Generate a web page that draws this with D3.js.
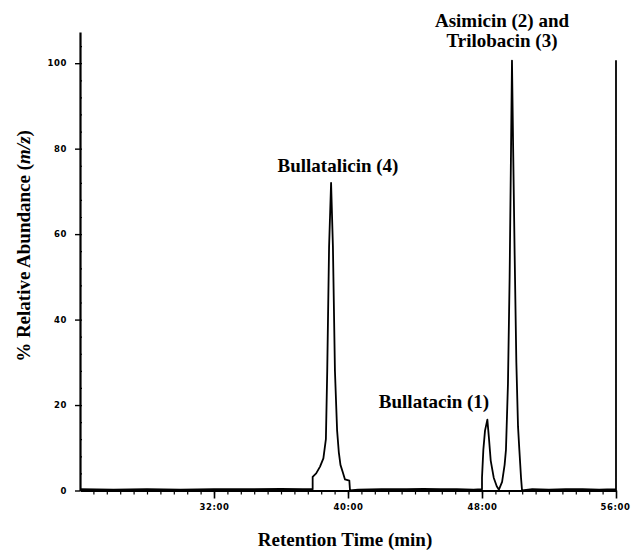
<!DOCTYPE html>
<html>
<head>
<meta charset="utf-8">
<script src="https://cdn.jsdelivr.net/npm/d3@7"></script>
<style>
  body { margin: 0; background: #fff; }
  .tick text { font-family: "DejaVu Sans", sans-serif; font-weight: bold; font-size: 8.5px; letter-spacing: 0.6px; }
  .lbl { font-family: "Liberation Serif", "Times New Roman", serif; font-weight: bold; font-size: 19px; }
</style>
</head>
<body>
<script>
// Retention time (min) and % relative abundance of the trace
const times = [24.0, 26.0, 28.0, 30.0, 32.0, 34.0, 36.0, 37.3, 37.89, 37.89, 38.1, 38.33, 38.53, 38.68, 38.76, 38.87, 38.99,
  39.1, 39.22, 39.35, 39.45, 39.55, 39.68, 39.82, 40.08, 40.12, 40.6, 42.0, 43.5, 44.5, 45.5, 46.5, 47.5,
  48.0, 48.0, 48.08, 48.18, 48.32, 48.42, 48.52, 48.7, 48.88, 49.01, 49.2, 49.35, 49.43, 49.55, 49.65, 49.72,
  49.79, 49.86, 49.95, 50.05, 50.15, 50.23, 50.33, 50.39, 51.0, 52.0, 53.0, 54.0, 55.0, 55.95, 56.0, 56.0];
const abundance = [0.3, 0.2, 0.3, 0.2, 0.3, 0.3, 0.4, 0.3, 0.3, 3.2, 4.0, 5.6, 7.5, 12, 28, 57, 72,
  57, 28, 14, 9, 6, 4.4, 2.6, 2.3, 0, 0.2, 0.3, 0.3, 0.4, 0.3, 0.3, 0.2,
  0.3, 3, 9.5, 14, 16.6, 12, 7, 3, 1, 0.2, 2, 6, 9.5, 25, 50, 75,
  100.6, 80, 55, 30, 15, 9.5, 3, 0, 0.3, 0.2, 0.3, 0.3, 0.2, 0.3, 0, 100.7];

const xMajor = [32, 40, 48, 56];
const yMajor = [0, 20, 40, 60, 80, 100];

const peakLabels = [
  { text: ["Bullatalicin (4)"], x: 338, y: 172 },
  { text: ["Bullatacin (1)"], x: 434, y: 408 },
  { text: ["Asimicin (2) and", "Trilobacin (3)"], x: 502, y: 27 }
];

const W = 631, H = 550;
const svg = d3.select("body").append("svg")
    .attr("width", W)
    .attr("height", H);

const x = d3.scaleLinear().domain([24, 56]).range([80, 616]);
const y = d3.scaleLinear().domain([0, 107.3]).range([490.5, 32]);

// X axis: major ticks with labels, minor ticks every 0.8 min
const xMinor = d3.range(24.8, 56, 0.8);
svg.append("g")
    .attr("transform", `translate(0,${y(0)})`)
    .call(d3.axisBottom(x).tickValues(xMinor).tickSize(4).tickFormat(""))
    .call(g => g.select(".domain").remove())
    .call(g => g.selectAll("line").attr("stroke-width", 1.2));

svg.append("g")
    .attr("transform", `translate(0,${y(0)})`)
    .call(d3.axisBottom(x).tickValues(xMajor).tickSize(8).tickSizeOuter(0).tickPadding(5)
        .tickFormat(d => d + ":00"))
    .call(g => g.select(".domain").attr("stroke-width", 2))
    .call(g => g.selectAll("line").attr("stroke-width", 1.6))
    // last label sits against the right edge, keep it inside the page
    .call(g => g.selectAll(".tick text").filter(d => d === 56).attr("dx", -1));

// Y axis: major ticks with labels, minor ticks every 4 %
const yMinor = d3.range(4, 107, 4);
svg.append("g")
    .attr("transform", `translate(${x(24)},0)`)
    .call(d3.axisRight(y).tickValues(yMinor).tickSize(2).tickFormat(""))
    .call(g => g.select(".domain").remove())
    .call(g => g.selectAll("line").attr("stroke-width", 1.2));

svg.append("g")
    .attr("transform", `translate(${x(24)},0)`)
    .call(d3.axisLeft(y).tickValues(yMajor).tickSize(5).tickSizeOuter(0).tickPadding(8))
    .call(g => g.select(".domain").attr("stroke-width", 2.2))
    .call(g => g.selectAll("line").attr("stroke-width", 1.4));

// trace
const pts = times.map((t, i) => [t, abundance[i]]);
svg.append("path")
    .datum(pts)
    .attr("fill", "none")
    .attr("stroke", "#000")
    .attr("stroke-width", 1.8)
    .attr("stroke-linejoin", "round")
    .attr("d", d3.line().x(d => x(d[0])).y(d => y(d[1])));

// peak labels
peakLabels.forEach(p => {
  const t = svg.append("text").attr("class", "lbl").attr("text-anchor", "middle");
  p.text.forEach((s, i) => {
    t.append("tspan").attr("x", p.x).attr("y", p.y + i * 20).text(s);
  });
});

// axis titles
svg.append("text")
    .attr("class", "lbl")
    .attr("text-anchor", "middle")
    .attr("x", 345)
    .attr("y", 546)
    .text("Retention Time (min)");

const yt = svg.append("text")
    .attr("class", "lbl")
    .attr("text-anchor", "middle")
    .attr("transform", "translate(30,246) rotate(-90)");
yt.append("tspan").text("% Relative Abundance (");
yt.append("tspan").attr("font-style", "italic").text("m/z");
yt.append("tspan").text(")");
</script>
</body>
</html>
